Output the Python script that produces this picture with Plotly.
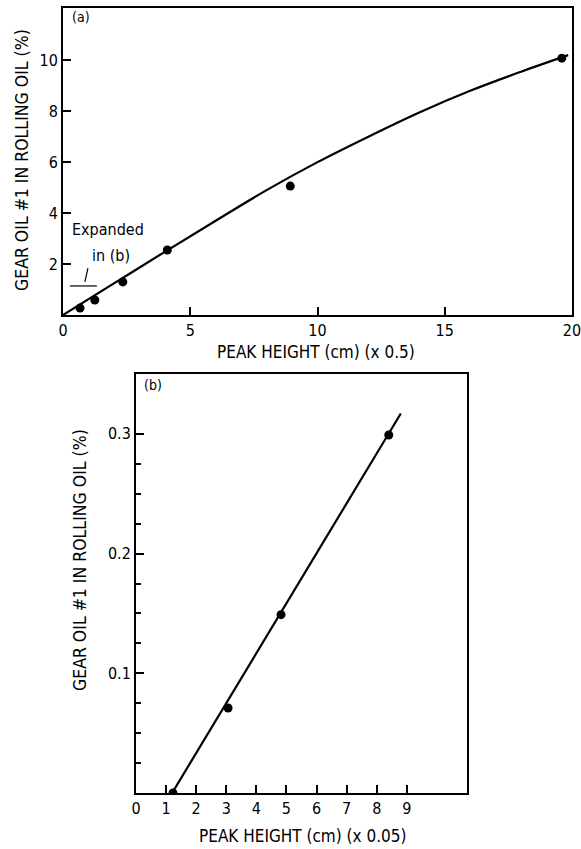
import plotly.graph_objects as go

W, H = 581, 849
FONT = "DejaVu Sans Condensed, Liberation Sans Narrow, Roboto Condensed, Arial Narrow, sans-serif"

# Panel (a) data
a_pts_x = [0.67, 1.25, 2.35, 4.1, 8.93, 19.6]
a_pts_y = [0.27, 0.59, 1.3, 2.55, 5.06, 10.08]
a_fit_x = [0, 2, 4, 6, 8, 10, 12, 14, 16, 18, 19.85]
a_fit_y = [0, 1.24, 2.48, 3.7, 4.9, 6.0, 7.0, 7.95, 8.8, 9.55, 10.2]
a_xticks = [0, 5, 10, 15, 20]
a_yticks = [2, 4, 6, 8, 10]

# Panel (b) data
b_pts_x = [1.23, 3.06, 4.82, 8.4]
b_pts_y = [0.0, 0.071, 0.149, 0.299]
b_fit_x = [1.2, 8.8]
b_fit_y = [0.0, 0.317]
b_xticks = [0, 1, 2, 3, 4, 5, 6, 7, 8, 9]
b_yticks_major = [0.1, 0.2, 0.3]
b_yticks_minor = [0.025, 0.05, 0.075, 0.125, 0.15, 0.175, 0.225, 0.25, 0.275]

def px_x(p):
    return p / W

def px_y(p):
    return 1 - p / H

fig = go.Figure()

fig.add_trace(go.Scatter(x=a_fit_x, y=a_fit_y, mode="lines", line=dict(color="black", width=2.2, shape="spline"),
                         xaxis="x", yaxis="y", showlegend=False, hoverinfo="skip"))
fig.add_trace(go.Scatter(x=a_pts_x, y=a_pts_y, mode="markers", marker=dict(color="black", size=9),
                         xaxis="x", yaxis="y", showlegend=False))
fig.add_trace(go.Scatter(x=b_fit_x, y=b_fit_y, mode="lines", line=dict(color="black", width=2.2),
                         xaxis="x2", yaxis="y2", showlegend=False, hoverinfo="skip"))
fig.add_trace(go.Scatter(x=b_pts_x, y=b_pts_y, mode="markers", marker=dict(color="black", size=9),
                         xaxis="x2", yaxis="y2", showlegend=False))

axis_common = dict(showline=True, linecolor="black", linewidth=2, mirror=True, showgrid=False,
                   zeroline=False, ticks="inside", tickcolor="black", tickwidth=2, automargin=False,
                   ticklabeloverflow="allow",
                   tickfont=dict(family=FONT, size=16, color="black"))

fig.update_layout(
    template="none",
    width=W, height=H, margin=dict(l=0, r=0, t=0, b=0, pad=0),
    paper_bgcolor="white", plot_bgcolor="white",
    xaxis=dict(domain=[px_x(63), px_x(572)], range=[0, 20], tickvals=a_xticks, ticklen=8,
               anchor="y", **axis_common),
    yaxis=dict(domain=[px_y(315), px_y(8)], range=[0, 12.05], tickvals=a_yticks, ticklen=8,
               anchor="x", **axis_common),
    xaxis2=dict(domain=[px_x(136), px_x(467)], range=[0, 11], tickvals=b_xticks, ticklen=8,
                anchor="y2", **axis_common),
    yaxis2=dict(domain=[px_y(793), px_y(374)], range=[0, 0.35], tickvals=b_yticks_major, ticklen=8,
                tickformat=".1f", anchor="x2",
                minor=dict(tickvals=b_yticks_minor, ticks="inside", ticklen=5, tickcolor="black", tickwidth=1.5),
                **axis_common),
)

def ann(text, x, y, size=16, angle=0, xref="paper", yref="paper", xanchor="center", yanchor="middle"):
    fig.add_annotation(text=text, x=x, y=y, xref=xref, yref=yref, showarrow=False, textangle=angle,
                       xanchor=xanchor, yanchor=yanchor,
                       font=dict(family=FONT, size=size, color="black"))

ann("GEAR OIL #1 IN ROLLING OIL (%)", px_x(22), px_y(160), size=17.5, angle=-90)
ann("PEAK HEIGHT (cm) (x 0.5)", px_x(316), px_y(352), size=17)
ann("(a)", px_x(70), px_y(17), size=14, xanchor="left")
ann("Expanded", px_x(108), px_y(230), size=16)
ann("in (b)", px_x(111), px_y(256), size=16)

ann("GEAR OIL #1 IN ROLLING OIL (%)", px_x(80), px_y(560), size=17.5, angle=-90)
ann("PEAK HEIGHT (cm) (x 0.05)", px_x(302), px_y(836), size=17)
ann("(b)", px_x(142), px_y(385), size=14, xanchor="left")

# bracket and pointer for "Expanded in (b)"
fig.add_shape(type="line", x0=0.27, x1=1.33, y0=1.14, y1=1.14, xref="x", yref="y",
              line=dict(color="black", width=1.2))
fig.add_shape(type="line", x0=0.86, x1=0.98, y0=1.3, y1=1.84, xref="x", yref="y",
              line=dict(color="black", width=1.2))

fig.write_html("out.html", config={"displayModeBar": False},
               post_script="document.body.style.margin='0';document.body.style.overflow='hidden';")
